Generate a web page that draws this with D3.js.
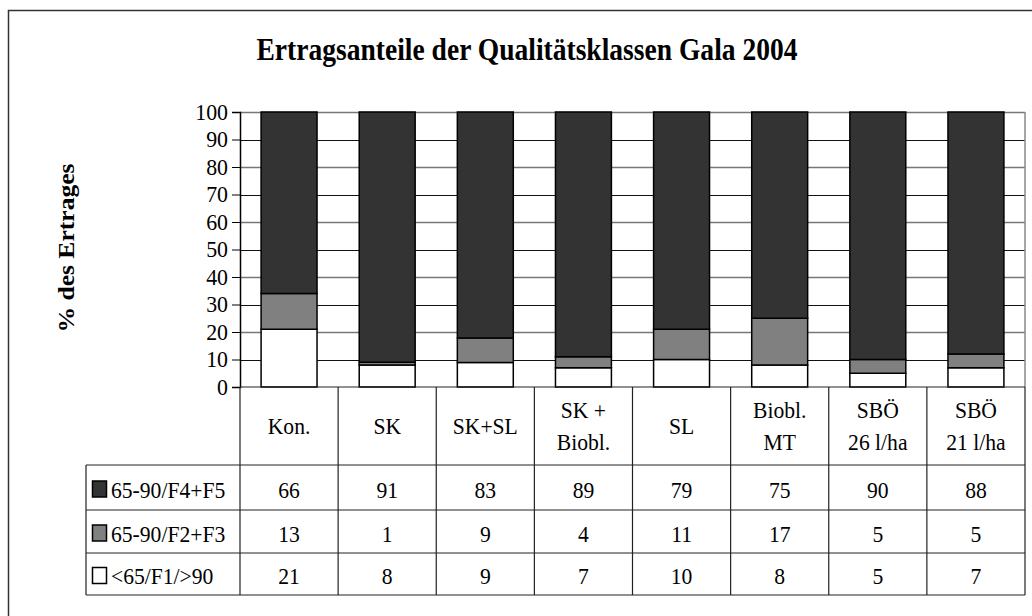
<!doctype html>
<html lang="de">
<head>
    <meta charset="utf-8" />
    <title>Ertragsanteile der Qualitätsklassen Gala 2004</title>
    <script src="https://cdn.jsdelivr.net/npm/d3@7"></script>
    <style>
        html, body { margin: 0; padding: 0; background: #fff; }
        svg text { font-family: "Liberation Serif", "Times New Roman", serif; fill: #000; }
    </style>
</head>
<body>
    <svg id="chart"></svg>

    <script>
        // data
        const categories = [["Kon."], ["SK"], ["SK+SL"], ["SK +", "Biobl."], ["SL"], ["Biobl.", "MT"], ["SBÖ", "26 l/ha"], ["SBÖ", "21 l/ha"]];
        const seriesNames = ["65-90/F4+F5", "65-90/F2+F3", "<65/F1/>90"];
        const seriesColors = ["#333333", "#808080", "#ffffff"];
        const valuesF4F5 = [66, 91, 83, 89, 79, 75, 90, 88];
        const valuesF2F3 = [13, 1, 9, 4, 11, 17, 5, 5];
        const valuesLow = [21, 8, 9, 7, 10, 8, 5, 7];
        const yTicks = [0, 10, 20, 30, 40, 50, 60, 70, 80, 90, 100];

        const width = 1032, height = 616;
        const plotLeft = 240, plotRight = 1025, plotTop = 112, plotBottom = 387;
        const headerBottom = 465, rowBottoms = [510, 553, 595], legendLeft = 86;
        const squeeze = 0.9; // the original text is set narrow

        const svg = d3.select("#chart")
            .attr("width", width)
            .attr("height", height);

        // narrow a text to a share of its natural width
        function narrow(sel, k) {
            sel.each(function() {
                const w = this.getComputedTextLength();
                d3.select(this).attr("textLength", w * k).attr("lengthAdjust", "spacingAndGlyphs");
            });
        }

        // frame
        svg.append("rect")
            .attr("x", 8.5).attr("y", 10.5)
            .attr("width", 1040).attr("height", 640)
            .attr("fill", "none")
            .attr("stroke", "#333")
            .attr("stroke-width", 1.5);

        svg.append("text")
            .attr("x", 527).attr("y", 60)
            .attr("text-anchor", "middle")
            .attr("font-size", 32)
            .attr("font-weight", "bold")
            .attr("textLength", 541)
            .attr("lengthAdjust", "spacingAndGlyphs")
            .text("Ertragsanteile der Qualitätsklassen Gala 2004");

        svg.append("text")
            .attr("transform", `translate(74, 248) rotate(-90)`)
            .attr("text-anchor", "middle")
            .attr("font-size", 24)
            .attr("font-weight", "bold")
            .attr("textLength", 169)
            .attr("lengthAdjust", "spacingAndGlyphs")
            .text("%  des Ertrages");

        const idx = d3.range(categories.length);
        const x = d3.scaleBand(idx, [plotLeft, plotRight]).paddingInner(0.43).paddingOuter(0.215);
        const col = d3.scaleBand(idx, [plotLeft, plotRight]).padding(0);
        const y = d3.scaleLinear([0, 1], [plotBottom, plotTop]);

        // gridlines
        svg.append("g")
            .selectAll("line")
            .data(yTicks.slice(1))
            .join("line")
            .attr("x1", plotLeft).attr("x2", plotRight)
            .attr("y1", d => Math.round(y(d / 100)) + 0.5)
            .attr("y2", d => Math.round(y(d / 100)) + 0.5)
            .attr("stroke", (d, i) => i % 2 ? "#777" : "#111")
            .attr("stroke-width", (d, i) => i % 2 ? 1.6 : 1);

        // plot right border
        svg.append("line")
            .attr("x1", plotRight).attr("x2", plotRight)
            .attr("y1", plotTop).attr("y2", plotBottom)
            .attr("stroke", "#888").attr("stroke-width", 1.5);

        // stacked bars (shares of 100 %)
        const rows = idx.map(i => ({ i, low: valuesLow[i], mid: valuesF2F3[i], top: valuesF4F5[i] }));
        const stack = d3.stack().keys(["low", "mid", "top"]).offset(d3.stackOffsetExpand)(rows);
        const fillFor = { low: seriesColors[2], mid: seriesColors[1], top: seriesColors[0] };

        svg.append("g")
            .selectAll("g")
            .data(stack)
            .join("g")
            .attr("fill", d => fillFor[d.key])
            .selectAll("rect")
            .data(d => d)
            .join("rect")
            .attr("x", d => x(d.data.i))
            .attr("y", d => y(d[1]))
            .attr("width", x.bandwidth())
            .attr("height", d => y(d[0]) - y(d[1]))
            .attr("stroke", "#000")
            .attr("stroke-width", 1.5);

        // y axis
        const yAxis = svg.append("g")
            .attr("transform", `translate(${plotLeft},0)`)
            .call(d3.axisLeft(y).tickValues(yTicks.map(t => t / 100)).tickFormat(d => Math.round(d * 100)).tickSize(8).tickPadding(4));
        yAxis.select(".domain").attr("stroke", "#000").attr("stroke-width", 1.5);
        yAxis.selectAll(".tick line").attr("stroke", "#000");
        yAxis.selectAll("text")
            .attr("font-family", null)
            .attr("font-size", 23)
            .call(narrow, 0.95);

        // data table
        const table = svg.append("g").attr("stroke", "#222").attr("stroke-width", 1.2);
        const tableBottom = rowBottoms[rowBottoms.length - 1];
        table.append("line").attr("x1", plotLeft).attr("x2", plotRight).attr("y1", plotBottom).attr("y2", plotBottom);
        [headerBottom].concat(rowBottoms).forEach(yy => {
            table.append("line").attr("x1", legendLeft).attr("x2", plotRight).attr("y1", yy).attr("y2", yy);
        });
        table.append("line").attr("x1", legendLeft).attr("x2", legendLeft).attr("y1", headerBottom).attr("y2", tableBottom);
        idx.concat([categories.length]).forEach(i => {
            const xx = i < categories.length ? col(i) : plotRight;
            table.append("line").attr("x1", xx).attr("x2", xx).attr("y1", plotBottom).attr("y2", tableBottom);
        });

        // header labels, one text per line
        const headerMid = 434, lineGap = 32;
        const headerLines = [];
        categories.forEach((lines, i) => {
            lines.forEach((t, j) => {
                headerLines.push({ i, t, y: headerMid + (j - (lines.length - 1) / 2) * lineGap });
            });
        });
        svg.append("g")
            .selectAll("text")
            .data(headerLines)
            .join("text")
            .attr("x", d => col(d.i) + col.bandwidth() / 2)
            .attr("y", d => d.y)
            .attr("text-anchor", "middle")
            .attr("font-size", 24)
            .text(d => d.t)
            .call(narrow, squeeze);

        // rows: legend key, name and values
        const rowValues = [valuesF4F5, valuesF2F3, valuesLow];
        rowValues.forEach((vals, r) => {
            const top = r === 0 ? headerBottom : rowBottoms[r - 1];
            const cy = (top + rowBottoms[r]) / 2;
            svg.append("g")
                .selectAll("text")
                .data(vals)
                .join("text")
                .attr("x", (d, i) => col(i) + col.bandwidth() / 2)
                .attr("y", cy + 10)
                .attr("text-anchor", "middle")
                .attr("font-size", 24)
                .text(d => d)
                .call(narrow, squeeze);

            svg.append("rect")
                .attr("x", 92.5).attr("y", cy - 6.5)
                .attr("width", 14).attr("height", 16)
                .attr("fill", seriesColors[r])
                .attr("stroke", "#000").attr("stroke-width", 1.5);

            svg.append("text")
                .attr("x", 111).attr("y", cy + 10)
                .attr("font-size", 24)
                .text(seriesNames[r])
                .call(narrow, 0.9);
        });
    </script>
</body>
</html>
